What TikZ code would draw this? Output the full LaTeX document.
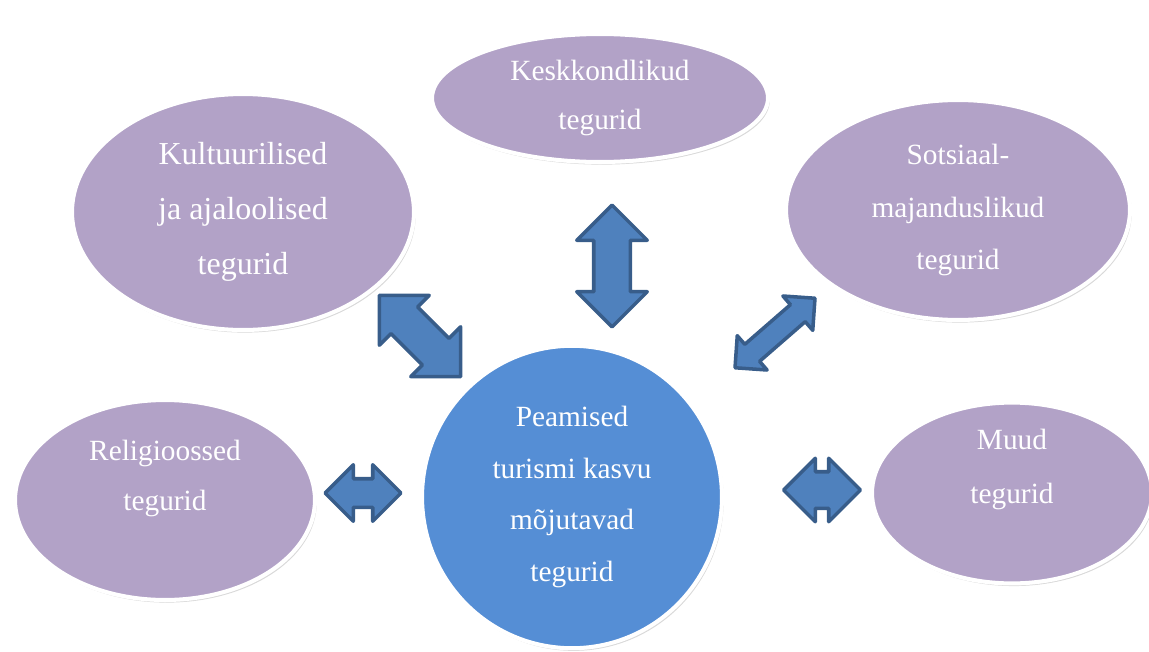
\documentclass[tikz,border=0pt]{standalone}
\usepackage{fontspec}
\setmainfont{Liberation Serif}
\usetikzlibrary{shapes.geometric,shapes.arrows,shadows}
\definecolor{lilla}{HTML}{B2A2C7}
\definecolor{sinine}{HTML}{558ED5}
\definecolor{noolsisu}{HTML}{4F81BD}
\definecolor{noolserv}{HTML}{385D8A}
\tikzset{
  tegur/.style={ellipse, fill=lilla, draw=white, line width=2.3pt,
    text=white, align=center, inner sep=0pt,
    font=\fontsize{16.7}{29.5}\selectfont,
    drop shadow={shadow xshift=1pt, shadow yshift=-1.5pt, opacity=.3}},
  nool/.style={double arrow, fill=noolsisu, draw=noolserv, line width=2pt,
    line join=round, inner sep=0pt, minimum width=0pt,
    double arrow tip angle=90, double arrow head indent=0pt},
}
\begin{document}
\begin{tikzpicture}[x=0.02cm,y=-0.02cm]
      \useasboundingbox (0,0) rectangle (1149,652);
      \draw
        (572,497) node[tegur, fill=sinine, minimum width=6cm, minimum height=6.05cm] (0){Peamised\\turismi kasvu\\mõjutavad\\tegurid}
        (243,212) node[tegur, minimum width=6.84cm, minimum height=4.72cm, font=\fontsize{18.2}{31.2}\selectfont] (1){Kultuurilised\\ja ajaloolised\\tegurid}
        (600,98) node[tegur, minimum width=6.72cm, minimum height=2.56cm, font=\fontsize{16.7}{28.4}\selectfont] (2){Keskkondlikud\\tegurid}
        (958,210) node[tegur, minimum width=6.88cm, minimum height=4.4cm, font=\fontsize{16.7}{29.8}\selectfont] (3){Sotsiaal-\\majanduslikud\\tegurid}
        (165,500) node[tegur, minimum width=6cm, minimum height=4cm, font=\fontsize{16.7}{28.4}\selectfont] (4){Religioossed\\tegurid\\\mbox{}}
        (1012,493) node[tegur, minimum width=5.6cm, minimum height=3.08cm, font=\fontsize{16.7}{30.6}\selectfont] (5){Muud\\tegurid\\\mbox{}};
      % nooled
      \begin{scope}
        \node[nool, rotate=-45, minimum height=2.3cm, inner ysep=0.34cm, double arrow head extend=0.33cm] (a1) at (420,336) {};
        \node[nool, rotate=90, minimum height=2.44cm, inner ysep=0.33cm, double arrow head extend=0.34cm] (a2) at (612,266) {};
        \node[nool, rotate=41, minimum height=2.12cm, inner ysep=0.19cm, double arrow head extend=0.23cm] (a3) at (775,333) {};
        \node[nool, minimum height=1.52cm, inner ysep=0.25cm, double arrow head extend=0.28cm] (a4) at (363,493) {};
        \node[nool, minimum height=1.54cm, inner ysep=0.33cm, double arrow head extend=0.27cm] (a5) at (822,490) {};
      \end{scope}
    \end{tikzpicture}
\end{document}
